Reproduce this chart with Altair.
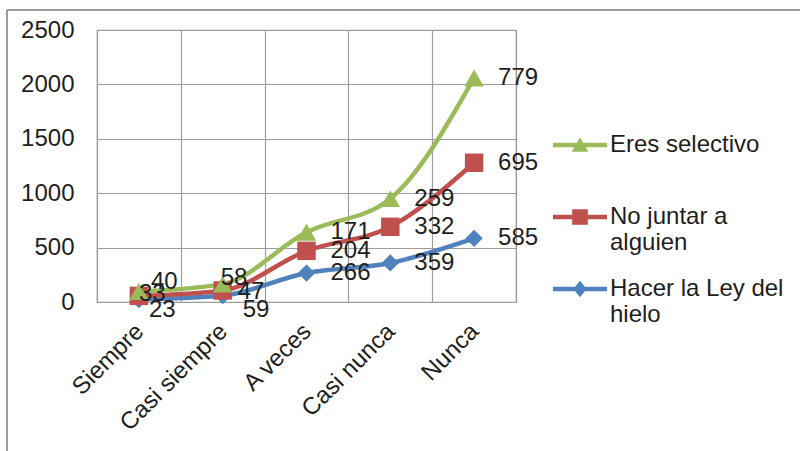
import altair as alt
import pandas as pd

categories = ["Siempre", "Casi siempre", "A veces", "Casi nunca", "Nunca"]
series_names = ["Hacer la Ley del hielo", "No juntar a alguien", "Eres selectivo"]
hacer = [23, 59, 266, 359, 585]
juntar = [33, 47, 204, 332, 695]
selectivo = [40, 58, 171, 259, 779]
y_ticks = [0, 500, 1000, 1500, 2000, 2500]
colors = ["#4F81BD", "#C0504D", "#9BBB59"]
legend_order = ["Eres selectivo", "No juntar a alguien", "Hacer la Ley del hielo"]
legend_lines = {
    "Eres selectivo": ["Eres selectivo", " "],
    "No juntar a alguien": ["No juntar a", "alguien"],
    "Hacer la Ley del hielo": ["Hacer la Ley del", "hielo"],
}

FONT = "Liberation Sans"
TXT = "#1e1e1e"
GRID = "#9c9c9c"

rows = []
for si, (name, vals) in enumerate(zip(series_names, [hacer, juntar, selectivo])):
    for ci, (cat, v) in enumerate(zip(categories, vals)):
        rows.append({"category": cat, "series": name, "value": v, "order": si})
df = pd.DataFrame(rows)

color_scale = alt.Scale(domain=series_names, range=colors)

base = alt.Chart(df).transform_stack(
    stack="value", groupby=["category"], as_=["y0", "y1"],
    sort=[alt.SortField("order", order="ascending")]
)

x_enc = alt.X("category:N", sort=categories,
              scale=alt.Scale(type="band", domain=categories, paddingInner=0, paddingOuter=0),
              axis=alt.Axis(title=None, tickBand="extent", labelAngle=-45, labelPadding=17,
                            labelOffset=-8, grid=True, ticks=False, domain=False))
y_enc = alt.Y("y1:Q", scale=alt.Scale(domain=[0, 2500], nice=False, zero=True),
              axis=alt.Axis(title=None, values=y_ticks, format="d", grid=True,
                            ticks=False, domain=False, labelPadding=23))

lines = base.mark_line(interpolate="monotone", strokeWidth=4.5).encode(
    x=x_enc, y=y_enc,
    color=alt.Color("series:N", scale=color_scale, legend=None),
    order=alt.Order("order:Q"),
)

points = base.mark_point(filled=True, opacity=1).encode(
    x=x_enc, y=y_enc,
    color=alt.Color("series:N", scale=color_scale, legend=None),
    shape=alt.Shape("series:N", scale=alt.Scale(domain=series_names,
                                                range=["diamond", "square", "triangle-up"]), legend=None),
    size=alt.Size("series:N", scale=alt.Scale(domain=series_names, range=[300, 380, 400]), legend=None),
)

text_props = dict(align="left", baseline="middle", fontSize=24, font=FONT, color=TXT)
labels = base.mark_text(dx=24, **text_props).encode(
    x=x_enc, y=y_enc, text=alt.Text("value:Q")
).transform_filter(alt.FieldOneOfPredicate(field="category", oneOf=categories[2:]))

# label offsets for crowded left categories (Excel moved them)
offsets = {
    ("Siempre", "Hacer la Ley del hielo"): (10, 11),
    ("Siempre", "No juntar a alguien"): (0, -2),
    ("Siempre", "Eres selectivo"): (12, -10),
    ("Casi siempre", "Hacer la Ley del hielo"): (20, 14),
    ("Casi siempre", "No juntar a alguien"): (15, 2),
    ("Casi siempre", "Eres selectivo"): (-2, -6),
}
special = []
for (cat, ser), (dx, dy) in offsets.items():
    special.append(
        base.mark_text(dx=dx, dy=dy, **text_props).encode(
            x=x_enc, y=y_enc, text=alt.Text("value:Q")
        ).transform_filter(
            (alt.datum.category == cat) & (alt.datum.series == ser)
        )
    )

# legend-only layer (no marks drawn)
legend_paths = [
    "M-1,-0.08H1V0.08H-1Z M0,-0.29L0.31,0.25L-0.31,0.25Z",
    "M-1,-0.08H1V0.08H-1Z M-0.29,-0.29H0.29V0.29H-0.29Z",
    "M-1,-0.08H1V0.08H-1Z M0,-0.31L0.25,0L0,0.31L-0.25,0Z",
]
expr = "datum.label"
for k, v in legend_lines.items():
    arr = "[" + ",".join("'" + s + "'" for s in v) + "]"
    expr = f"datum.label == '{k}' ? {arr} : ({expr})"
leg = alt.Legend(orient="none", legendX=456, legendY=88, title=None, symbolSize=2916,
                 symbolStrokeWidth=0, symbolOpacity=1, labelFontSize=24, labelFont=FONT,
                 labelColor=TXT, labelOffset=3, rowPadding=7, labelLimit=400,
                 labelExpr=expr)
legend_layer = alt.Chart(df).mark_point(filled=True, opacity=1).encode(
    color=alt.Color("series:N", scale=alt.Scale(domain=legend_order,
                                                range=[colors[2], colors[1], colors[0]]), legend=leg),
    shape=alt.Shape("series:N", scale=alt.Scale(domain=legend_order, range=legend_paths), legend=leg),
).transform_filter("datum.value < 0")

frame_df = pd.DataFrame({"k": [0]})
frame_top = alt.Chart(frame_df).mark_rule(color="#7a7a7a", strokeWidth=1.5).encode(
    x=alt.value(-90), x2=alt.value(703), y=alt.value(-20))
frame_left = alt.Chart(frame_df).mark_rule(color="#7a7a7a", strokeWidth=1.5).encode(
    x=alt.value(-90), y=alt.value(-20), y2=alt.value(421))

chart = alt.layer(lines, points, labels, *special, legend_layer, frame_top, frame_left).resolve_scale(
    color="independent", shape="independent", size="independent"
).properties(
    width=419, height=272,
    padding={"left": 97, "top": 30, "right": 284, "bottom": 149},
    autosize="none", background="white",
).configure_axis(
    labelFont=FONT, labelFontSize=24, labelColor=TXT, gridColor=GRID, gridWidth=1.2
).configure_view(stroke=GRID, strokeWidth=1.2)

chart.save("out.html", embed_options={"renderer": "svg", "actions": False})
